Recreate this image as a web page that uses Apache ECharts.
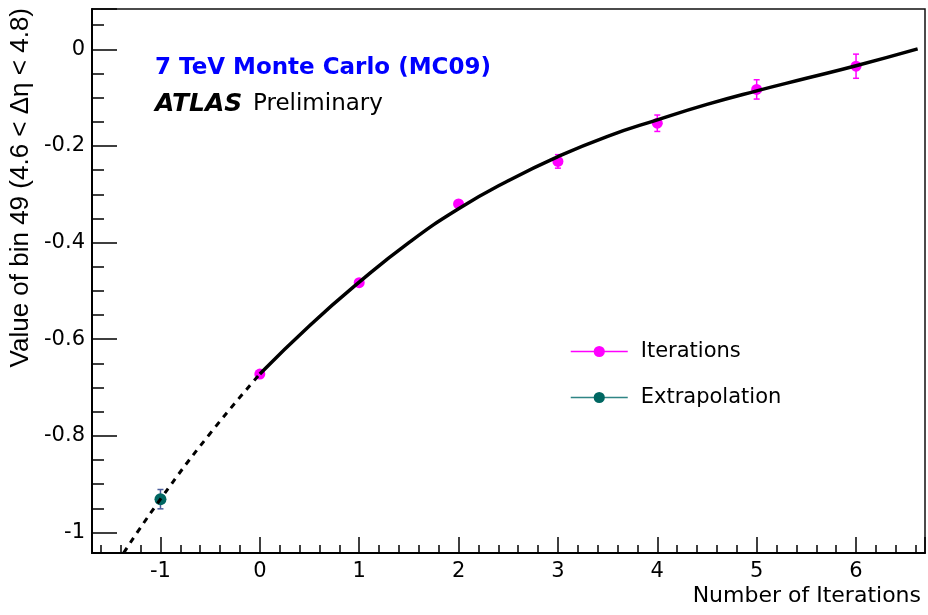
<!DOCTYPE html>
<html>
<head>
<meta charset="utf-8">
<script src="https://cdn.jsdelivr.net/npm/echarts@6/dist/echarts.min.js"></script>
<style>
html,body{margin:0;padding:0;background:#fff;}
#chart{width:928px;height:615px;}
</style>
</head>
<body>
<div id="chart"></div>
<script>
// ---- data ----
const iterX = [0, 1, 2, 3, 4, 5, 6];
const iterY = [-0.672, -0.483, -0.320, -0.232, -0.153, -0.083, -0.035];
const iterErr = [0.004, 0.004, 0.004, 0.014, 0.017, 0.020, 0.025];

const extrapX = [-1];
const extrapY = [-0.931];
const extrapErr = [0.020];

// fitted curve
const fitX = [0, 0.5, 1, 1.5, 2, 2.5, 3, 3.5, 4, 4.5, 5, 5.5, 6, 6.62];
const fitY = [-0.672, -0.572, -0.482, -0.400, -0.330, -0.272, -0.222, -0.180, -0.146, -0.114, -0.086, -0.060, -0.034, 0.001];
// dashed extrapolated part of the curve
const extX = [-1.37, -1, -0.5, 0];
const extY = [-1.042, -0.931, -0.795, -0.672];

const xTitle = 'Number of Iterations';
const yTitle = 'Value of bin 49 (4.6 < \u0394\u03b7 < 4.8)';
const label1 = '7 TeV Monte Carlo (MC09)';
const seriesNames = ['Iterations', 'Extrapolation'];

const zip = (xs, ys) => xs.map((x, i) => [x, ys[i]]);
const zip3 = (xs, ys, es) => xs.map((x, i) => [x, ys[i], es[i]]);

function errRender(color) {
  return function (params, api) {
    const x = api.value(0), y = api.value(1), e = api.value(2);
    const t = api.coord([x, y + e]);
    const b = api.coord([x, y - e]);
    const w = 3;
    const st = { stroke: color, lineWidth: 1.5 };
    return {
      type: 'group',
      children: [
        { type: 'line', shape: { x1: t[0], y1: t[1], x2: b[0], y2: b[1] }, style: st },
        { type: 'line', shape: { x1: t[0] - w, y1: t[1], x2: t[0] + w, y2: t[1] }, style: st },
        { type: 'line', shape: { x1: b[0] - w, y1: b[1], x2: b[0] + w, y2: b[1] }, style: st }
      ]
    };
  };
}

const FONT = 'DejaVu Sans';
const chart = echarts.init(document.getElementById('chart'), null, { renderer: 'canvas' });

chart.setOption({
  animation: false,
  backgroundColor: '#fff',
  grid: {
    left: 92, right: 3, top: 9, bottom: 62,
    show: true, borderColor: '#111', borderWidth: 1.5, backgroundColor: 'transparent'
  },
  xAxis: {
    type: 'value',
    min: -1.689, max: 6.694,
    splitNumber: 8,
    name: xTitle,
    nameLocation: 'end',
    nameGap: -4,
    nameTextStyle: {
      fontFamily: FONT, fontSize: 22, color: '#000',
      align: 'right', verticalAlign: 'top', padding: [32, 0, 0, 0]
    },
    axisLine: { show: true, onZero: false, lineStyle: { color: '#000', width: 2 } },
    axisTick: { show: true, inside: true, length: 16, lineStyle: { color: '#000', width: 1.5 } },
    minorTick: { show: true, splitNumber: 5, length: 8, lineStyle: { color: '#000', width: 1.5 } },
    axisLabel: {
      fontFamily: FONT, fontSize: 21, color: '#000', margin: 8,
      showMinLabel: false, showMaxLabel: false
    },
    splitLine: { show: false },
    minorSplitLine: { show: false }
  },
  yAxis: {
    type: 'value',
    min: -1.0424, max: 0.0834,
    splitNumber: 5,
    axisLine: { show: true, onZero: false, lineStyle: { color: '#000', width: 2 } },
    axisTick: { show: true, inside: true, length: 25, lineStyle: { color: '#000', width: 1.5 } },
    minorTick: { show: true, splitNumber: 4, length: 12, lineStyle: { color: '#000', width: 1.5 } },
    axisLabel: {
      fontFamily: FONT, fontSize: 21, color: '#000', margin: 7,
      showMinLabel: false, showMaxLabel: false
    },
    splitLine: { show: false },
    minorSplitLine: { show: false }
  },
  legend: {
    orient: 'vertical',
    left: 570, top: 341,
    itemWidth: 57, itemHeight: 14,
    itemGap: 25,
    padding: 0,
    textStyle: { fontFamily: FONT, fontSize: 21, color: '#000', padding: [0, 0, 0, 8] },
    data: [
      { name: seriesNames[0], lineStyle: { color: '#ff00ff', width: 1.5 }, itemStyle: { color: '#ff00ff' } },
      { name: seriesNames[1], lineStyle: { color: '#2f8585', width: 1.5 }, itemStyle: { color: '#006762' } }
    ]
  },
  graphic: [
    {
      type: 'text', x: 155, y: 68, z: 100,
      style: { text: label1, font: 'bold 23px "DejaVu Sans"', fill: '#0000ff', textAlign: 'left', textVerticalAlign: 'middle' }
    },
    {
      type: 'text', x: 155, y: 104, z: 100,
      style: { text: 'ATLAS', font: 'italic bold 25px "DejaVu Sans"', fill: '#000', textAlign: 'left', textVerticalAlign: 'middle' }
    },
    {
      type: 'text', x: 253, y: 104, z: 100,
      style: { text: 'Preliminary', font: '23px "DejaVu Sans"', fill: '#000', textAlign: 'left', textVerticalAlign: 'middle' }
    },
    {
      type: 'text', x: 21, y: 8, rotation: Math.PI / 2, z: 100,
      style: { text: yTitle, font: '26px "Liberation Sans"', fill: '#000', textAlign: 'right', textVerticalAlign: 'middle' }
    }
  ],
  series: [
    {
      name: 'iterErr', type: 'custom', renderItem: errRender('#ff00ff'),
      data: zip3(iterX, iterY, iterErr), encode: { x: 0, y: 1 }, z: 2, clip: true, silent: true
    },
    {
      name: 'extrapErr', type: 'custom', renderItem: errRender('#4a5d9c'),
      data: zip3(extrapX, extrapY, extrapErr), encode: { x: 0, y: 1 }, z: 2, clip: true, silent: true
    },
    {
      name: seriesNames[0], type: 'line', data: zip(iterX, iterY),
      symbol: 'circle', symbolSize: 11, showSymbol: true,
      lineStyle: { width: 0, color: '#ff00ff' }, itemStyle: { color: '#ff00ff' }, z: 3
    },
    {
      name: seriesNames[1], type: 'line', data: zip(extrapX, extrapY),
      symbol: 'circle', symbolSize: 12, showSymbol: true,
      lineStyle: { width: 0, color: '#2f8585' }, itemStyle: { color: '#006762' }, z: 3
    },
    {
      name: 'fit', type: 'line', data: zip(fitX, fitY), smooth: true,
      symbol: 'none', lineStyle: { color: '#000', width: 3.5 }, z: 4, silent: true
    },
    {
      name: 'fitExt', type: 'line', data: zip(extX, extY), smooth: true,
      symbol: 'none', lineStyle: { color: '#000', width: 3, type: [6, 6] }, z: 4, silent: true
    }
  ]
});
</script>
</body>
</html>
